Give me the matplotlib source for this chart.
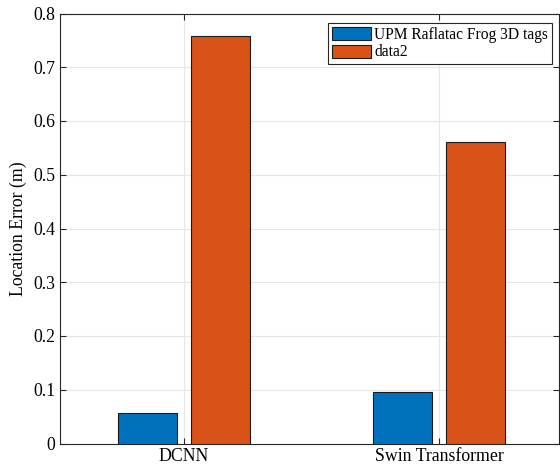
import matplotlib
matplotlib.use('Agg')
import matplotlib.pyplot as plt
import numpy as np

methods = ['DCNN', 'Swin Transformer']
upm_err = [0.056, 0.095]
data2_err = [0.759, 0.560]
series_names = ['UPM Raflatac Frog 3D tags', 'data2']

plt.rcParams['font.family'] = 'Liberation Serif'
plt.rcParams['font.size'] = 12.8

fig = plt.figure(figsize=(5.6, 4.7), dpi=100)
# axes box: x 60..559 px, y 13.5..443.5 px
ax = fig.add_axes([60/560, 26.5/470, 499/560, 430/470])

x = np.arange(1, len(methods) + 1)
w = 0.231
ax.bar(x - 0.143, upm_err, w, color='#0072BD', edgecolor='#1a1a1a', linewidth=0.8, label=series_names[0], zorder=3)
ax.bar(x + 0.143, data2_err, w, color='#D95319', edgecolor='#1a1a1a', linewidth=0.8, label=series_names[1], zorder=3)

ax.set_xlim(0.514, 2.47)
ax.set_ylim(0, 0.8)
ax.set_xticks(x)
ax.set_xticklabels(methods)
ax.set_yticks(np.arange(0, 0.81, 0.1))
ax.set_yticklabels(['0', '0.1', '0.2', '0.3', '0.4', '0.5', '0.6', '0.7', '0.8'])
ax.set_ylabel('Location Error (m)')
ax.grid(True, color='#e6e6e6', linewidth=0.8, zorder=0)
ax.tick_params(direction='in', length=4, width=0.8, color='#262626', top=True, right=True)
for s in ax.spines.values():
    s.set_color('#262626')
    s.set_linewidth(0.8)

leg = ax.legend(loc='upper right', bbox_to_anchor=(492/499, 1 - 9.5/430), fancybox=False,
                edgecolor='#262626', framealpha=1, fontsize=11.2, borderpad=0.25, handlelength=2.55,
                handleheight=0.9, handletextpad=0.2, labelspacing=0.1, borderaxespad=0)
leg.get_frame().set_linewidth(0.8)

fig.savefig('out.png', dpi=100)
